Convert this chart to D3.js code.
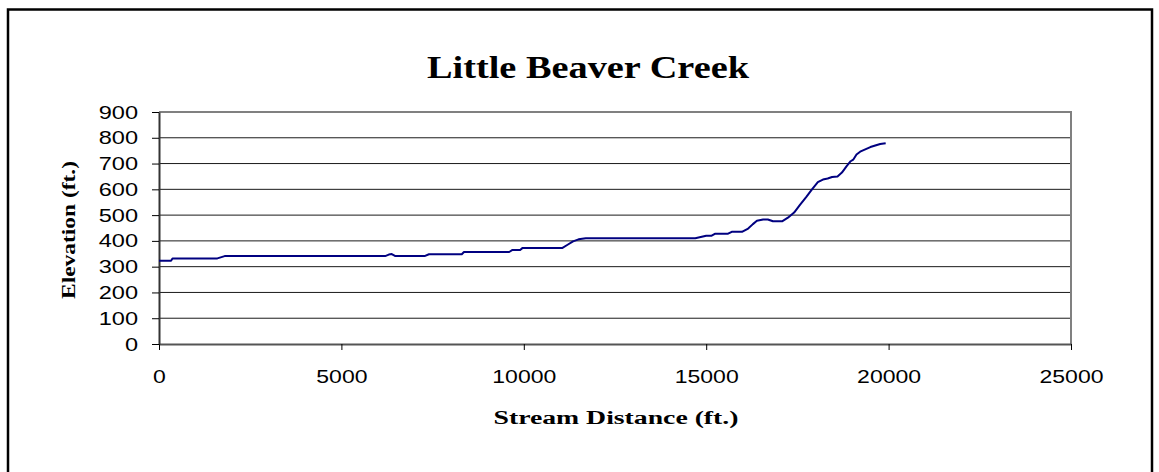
<!DOCTYPE html>
<meta charset="utf-8">
<style>
body { margin: 0; background: #fff; }
svg { display: block; }
.tick text { font-family: "Liberation Sans", Arial, sans-serif; font-size: 19px; fill: #000; }
.ttl { font-family: "Liberation Serif", "Times New Roman", serif; font-weight: bold; fill: #000; }
</style>
<svg width="1159" height="472"></svg>
<script src="https://d3js.org/d3.v7.min.js"></script>
<script>

// stream distance (ft.) and elevation (ft.)
var distance = [0, 330, 370, 1600, 1800, 6200, 6300, 6380, 6480, 7280, 7400, 8300, 8360, 9600, 9690,
  9900, 9960, 11050, 11200, 11350, 11500, 11700, 14700, 14850, 15000, 15150, 15250, 15600, 15700,
  15980, 16150, 16280, 16390, 16560, 16690, 16830, 17080, 17240, 17410, 17570, 17740, 17900, 18060,
  18200, 18330, 18450, 18600, 18720, 18850, 18960, 19030, 19120, 19220, 19500, 19770, 19920];
var elevation = [323, 323, 332, 332, 341, 341, 347, 349, 341, 341, 348, 348, 357, 357, 365,
  365, 372, 372, 385, 398, 406, 410, 410, 415, 420, 420, 428, 428, 435,
  435, 448, 465, 478, 483, 483, 476, 476, 490, 510, 540, 570, 600, 628,
  638, 642, 648, 650, 665, 690, 709, 715, 735, 746, 764, 776, 779];

var xTicks = [0, 5000, 10000, 15000, 20000, 25000];
var yTicks = [0, 100, 200, 300, 400, 500, 600, 700, 800, 900];

var title = "Little Beaver Creek",
    xTitle = "Stream Distance (ft.)",
    yTitle = "Elevation (ft.)";

var svg = d3.select("svg");

var x = d3.scaleLinear().domain([0, 25000]).range([159, 1071]);
var y = d3.scaleLinear().domain([0, 900]).range([344, 112]);

// outer chart border
svg.append("rect")
    .attr("x", 8).attr("y", 9.5)
    .attr("width", 1144).attr("height", 480)
    .attr("fill", "none")
    .attr("stroke", "#000")
    .attr("stroke-width", 2.5);

// gridlines
svg.append("g")
  .selectAll("line")
  .data(yTicks.filter(function(d) { return d > 0 && d < 900; }))
  .enter().append("line")
    .attr("x1", x(0)).attr("x2", x(25000))
    .attr("y1", function(d) { return y(d); })
    .attr("y2", function(d) { return y(d); })
    .attr("stroke", "#1a1a1a")
    .attr("stroke-width", 1);

// top and right edge of the plot area
svg.append("path")
    .attr("d", "M" + x(0) + "," + y(900) + "H" + x(25000) + "V" + y(0))
    .attr("fill", "none")
    .attr("stroke", "#808080")
    .attr("stroke-width", 2);

var fmt = d3.format("d");

var xAxis = svg.append("g")
    .attr("transform", "translate(0," + y(0) + ")")
    .call(d3.axisBottom(x).tickValues(xTicks).tickFormat(fmt)
      .tickSize(6).tickPadding(20).tickSizeOuter(0));
xAxis.select(".domain").attr("stroke", "#555").attr("stroke-width", 2);
xAxis.selectAll(".tick line").attr("stroke", "#000");
xAxis.selectAll(".tick text")
    .attr("textLength", function(d) { return fmt(d).length * 12.8; })
    .attr("lengthAdjust", "spacingAndGlyphs");

var yAxis = svg.append("g")
    .attr("transform", "translate(" + x(0) + ",0)")
    .call(d3.axisLeft(y).tickValues(yTicks).tickFormat(fmt)
      .tickSize(7).tickPadding(14).tickSizeOuter(0));
yAxis.select(".domain").attr("stroke", "#333").attr("stroke-width", 2);
yAxis.selectAll(".tick line").attr("stroke", "#000");
yAxis.selectAll(".tick text")
    .attr("textLength", function(d) { return fmt(d).length * 13.1; })
    .attr("lengthAdjust", "spacingAndGlyphs");

// profile line
var line = d3.line()
    .x(function(d, i) { return x(distance[i]); })
    .y(function(d) { return y(d); });

svg.append("path")
    .datum(elevation)
    .attr("d", line)
    .attr("fill", "none")
    .attr("stroke", "#000080")
    .attr("stroke-width", 2)
    .attr("stroke-linejoin", "round");

// titles
svg.append("text")
    .attr("class", "ttl")
    .attr("x", 588).attr("y", 78)
    .attr("text-anchor", "middle")
    .attr("font-size", 32)
    .attr("textLength", 322)
    .attr("lengthAdjust", "spacingAndGlyphs")
    .text(title);

svg.append("text")
    .attr("class", "ttl")
    .attr("x", 616).attr("y", 424)
    .attr("text-anchor", "middle")
    .attr("font-size", 18)
    .attr("textLength", 245)
    .attr("lengthAdjust", "spacingAndGlyphs")
    .text(xTitle);

svg.append("text")
    .attr("class", "ttl")
    .attr("transform", "translate(75," + (y(450) + 2) + ") rotate(-90)")
    .attr("text-anchor", "middle")
    .attr("font-size", 18)
    .attr("textLength", 138)
    .attr("lengthAdjust", "spacingAndGlyphs")
    .text(yTitle);

</script>
